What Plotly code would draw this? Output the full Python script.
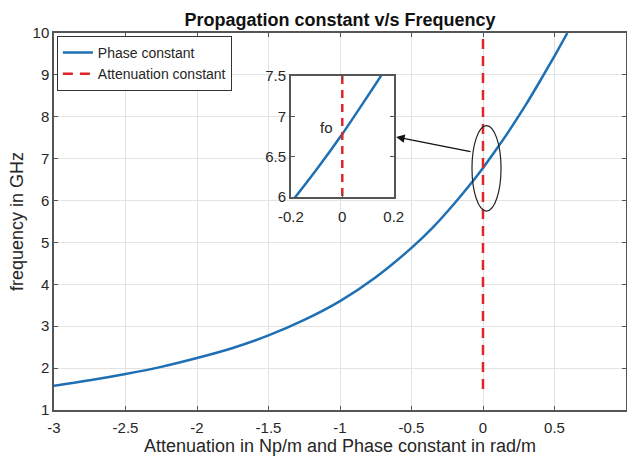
import plotly.graph_objects as go

# --- data ---
beta = [-3.0, -2.75, -2.5, -2.25, -2.0, -1.75, -1.5, -1.25, -1.0, -0.75, -0.5,
        -0.35, -0.2, -0.1, 0.0, 0.08, 0.16, 0.3, 0.4, 0.5, 0.59]          # rad/m
freq_beta = [1.58, 1.71, 1.86, 2.03, 2.24, 2.48, 2.78, 3.15, 3.60, 4.17, 4.87,
             5.36, 5.93, 6.34, 6.78, 7.16, 7.55, 8.29, 8.86, 9.45, 10.0]   # GHz
alpha = [0.0, 0.0]              # Np/m
freq_alpha = [1.5, 10.0]        # GHz

x_ticks = [-3, -2.5, -2, -1.5, -1, -0.5, 0, 0.5, 1]
x_ticktext = ["-3", "-2.5", "-2", "-1.5", "-1", "-0.5", "0", "0.5", "1"]
y_ticks = [1, 2, 3, 4, 5, 6, 7, 8, 9, 10]
inset_x_ticks = [-0.2, 0, 0.2]
inset_x_ticktext = ["-0.2", "0", "0.2"]
inset_y_ticks = [6, 6.5, 7, 7.5]

BLUE = "#1f6fb4"
RED = "#e0242a"
AX = "#555555"
TXT = "#262626"
FONT = "Liberation Sans, Arial, sans-serif"

fig = go.Figure()
fig.add_trace(go.Scatter(x=beta, y=freq_beta, mode="lines", name="Phase constant",
                         line=dict(color=BLUE, width=2.5, shape="spline", smoothing=0.6)))
fig.add_trace(go.Scatter(x=alpha, y=freq_alpha, mode="lines", name="Attenuation constant",
                         line=dict(color=RED, width=2.5, dash="10px,7px")))
# inset
fig.add_trace(go.Scatter(x=beta, y=freq_beta, mode="lines", showlegend=False,
                         xaxis="x2", yaxis="y2",
                         line=dict(color=BLUE, width=2.5, shape="spline", smoothing=0.6)))
fig.add_trace(go.Scatter(x=alpha, y=freq_alpha, mode="lines", showlegend=False,
                         xaxis="x2", yaxis="y2",
                         line=dict(color=RED, width=2.5, dash="8px,6px")))

axis_common = dict(showline=True, linecolor=AX, linewidth=1.5, mirror="ticks",
                   ticks="inside", ticklen=4, tickcolor=AX, zeroline=False,
                   automargin=False,
                   tickfont=dict(family=FONT, size=15, color=TXT))

fig.update_layout(
    width=627, height=461,
    margin=dict(l=54, r=1, t=33, b=51),
    paper_bgcolor="white", plot_bgcolor="white",
    title=dict(text="<b>Propagation constant v/s Frequency</b>", x=0.5, xref="paper",
               y=1, yref="paper", yanchor="bottom", pad=dict(b=7),
               font=dict(family=FONT, size=18, color="#111111")),
    xaxis=dict(range=[-3, 1], tickvals=x_ticks, ticktext=x_ticktext,
               showgrid=True, gridcolor="#e3e3e3", gridwidth=1, ticklabelstandoff=3,
               title=dict(text="Attenuation in Np/m and Phase constant in rad/m",
                          font=dict(family=FONT, size=18, color=TXT), standoff=5),
               **axis_common),
    yaxis=dict(range=[1, 10], tickvals=y_ticks,
               showgrid=True, gridcolor="#e3e3e3", gridwidth=1,
               title=dict(text="frequency in GHz",
                          font=dict(family=FONT, size=18, color=TXT), standoff=4),
               **axis_common),
    xaxis2=dict(domain=[0.414, 0.594], anchor="y2", range=[-0.2, 0.2],
                tickvals=inset_x_ticks, ticktext=inset_x_ticktext, showgrid=False,
                ticklabelstandoff=5, **axis_common),
    yaxis2=dict(domain=[0.565, 0.886], anchor="x2", range=[6, 7.5],
                tickvals=inset_y_ticks, showgrid=False, **axis_common),
    legend=dict(x=0.005, y=0.992, xanchor="left", yanchor="top",
                bgcolor="white", bordercolor="#333333", borderwidth=1,
                font=dict(family=FONT, size=14, color=TXT), tracegroupgap=0),
    showlegend=True,
)

# ellipse marking the crossing region
fig.add_shape(type="circle", xref="x", yref="y", x0=-0.077, x1=0.126, y0=5.75, y1=7.79,
              line=dict(color="#222222", width=1.2))
# arrow from ellipse to inset
fig.add_annotation(x=-0.607, y=7.52, ax=-0.077, ay=7.16, xref="x", yref="y",
                   axref="x", ayref="y", text="", showarrow=True,
                   arrowhead=2, arrowsize=1.3, arrowwidth=1.3, arrowcolor="#111111")
# f0 label in inset
fig.add_annotation(x=-0.06, y=6.86, xref="x2", yref="y2", text="fo", showarrow=False,
                   font=dict(family=FONT, size=15, color=TXT))

fig.write_html("out.html")
